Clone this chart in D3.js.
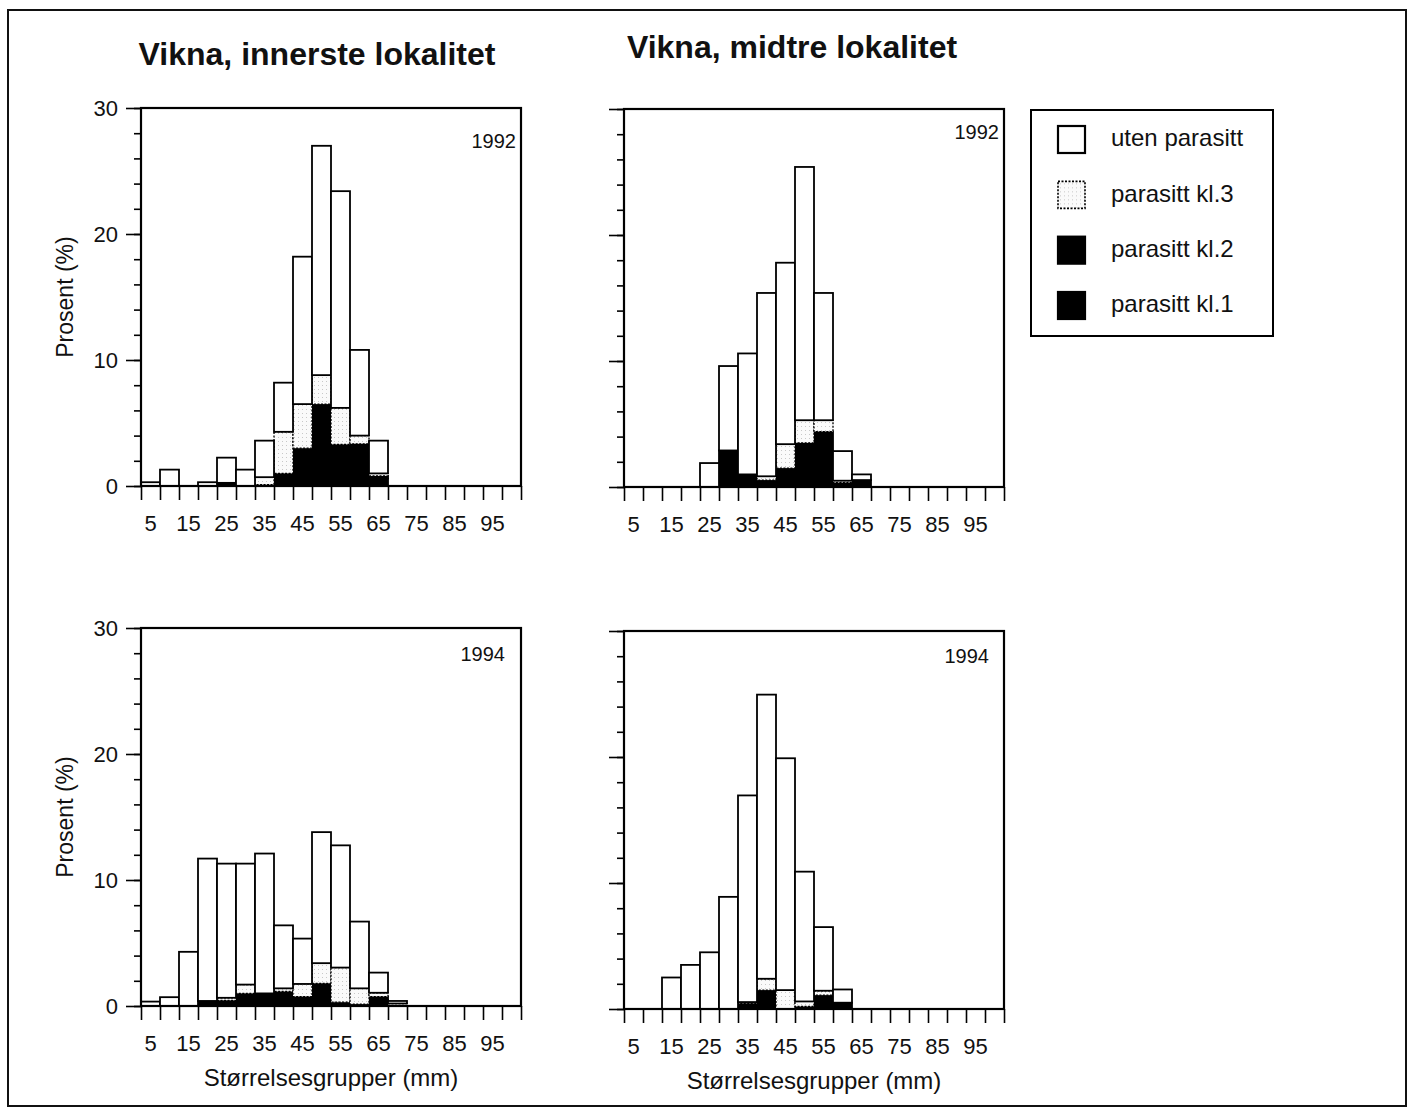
<!DOCTYPE html>
<html>
<head>
<meta charset="utf-8">
<script src="https://cdn.jsdelivr.net/npm/d3@7"></script>
<style>
  body { margin: 0; background: #fff; }
  text { font-family: "Liberation Sans", Arial, sans-serif; fill: #111; }
</style>
</head>
<body>
<div id="chart"></div>
<script>
// size groups (mm), every bin is 5 mm wide
const groups = [5, 10, 15, 20, 25, 30, 35, 40, 45, 50, 55, 60, 65, 70, 75, 80, 85, 90, 95, 100];
const groupLabels = [5, 15, 25, 35, 45, 55, 65, 75, 85, 95];
const yMajor = [0, 10, 20, 30];
const layerKeys = ["kl1", "kl2", "kl3", "uten"];
const legendLabels = ["uten parasitt", "parasitt kl.3", "parasitt kl.2", "parasitt kl.1"];
const legendKeys = ["uten", "kl3", "kl2", "kl1"];

// Vikna, innerste lokalitet 1992 (% per group, each layer's own height)
const inner92Uten = [0.3, 1.3, 0, 0.3, 2.0, 1.3, 2.9, 3.9, 11.7, 18.2, 17.2, 6.8, 2.6, 0, 0, 0, 0, 0, 0, 0];
const inner92Kl3  = [0, 0, 0, 0, 0, 0, 0.6, 3.3, 3.5, 2.3, 2.9, 0.65, 0.2, 0, 0, 0, 0, 0, 0, 0];
const inner92Kl2  = [0, 0, 0, 0, 0, 0, 0, 0.2, 1.0, 3.1, 0.8, 0.85, 0.2, 0, 0, 0, 0, 0, 0, 0];
const inner92Kl1  = [0, 0, 0, 0, 0.25, 0, 0.1, 0.8, 2.0, 3.4, 2.5, 2.5, 0.6, 0, 0, 0, 0, 0, 0, 0];

// Vikna, midtre lokalitet 1992
const mid92Uten = [0, 0, 0, 0, 1.9, 6.7, 9.6, 14.55, 14.4, 20.1, 10.1, 2.35, 0.45, 0, 0, 0, 0, 0, 0, 0];
const mid92Kl3  = [0, 0, 0, 0, 0, 0, 0, 0.3, 1.9, 1.8, 0.9, 0.15, 0, 0, 0, 0, 0, 0, 0, 0];
const mid92Kl2  = [0, 0, 0, 0, 0, 1.0, 0, 0, 0.4, 1.5, 1.9, 0, 0, 0, 0, 0, 0, 0, 0, 0];
const mid92Kl1  = [0, 0, 0, 0, 0, 1.9, 1.0, 0.55, 1.1, 2.0, 2.5, 0.35, 0.55, 0, 0, 0, 0, 0, 0, 0];

// Vikna, innerste lokalitet 1994
const inner94Uten = [0.35, 0.7, 4.3, 11.3, 10.65, 9.6, 11.1, 5.0, 3.6, 10.4, 9.7, 5.3, 1.6, 0.2, 0, 0, 0, 0, 0, 0];
const inner94Kl3  = [0, 0, 0, 0, 0.2, 0.7, 0, 0.25, 1.0, 1.6, 2.75, 1.25, 0.3, 0.2, 0, 0, 0, 0, 0, 0];
const inner94Kl2  = [0, 0, 0, 0, 0, 0.3, 0.3, 0.35, 0.2, 0.8, 0, 0, 0.25, 0, 0, 0, 0, 0, 0, 0];
const inner94Kl1  = [0, 0, 0, 0.4, 0.45, 0.7, 0.7, 0.8, 0.55, 1.0, 0.3, 0.15, 0.5, 0, 0, 0, 0, 0, 0, 0];

// Vikna, midtre lokalitet 1994
const mid94Uten = [0, 0, 2.5, 3.5, 4.5, 8.9, 16.4, 22.55, 18.4, 10.3, 5.05, 1.05, 0, 0, 0, 0, 0, 0, 0, 0];
const mid94Kl3  = [0, 0, 0, 0, 0, 0, 0.1, 0.9, 1.5, 0.4, 0.35, 0, 0, 0, 0, 0, 0, 0, 0, 0];
const mid94Kl2  = [0, 0, 0, 0, 0, 0, 0, 0.5, 0, 0, 0.4, 0, 0, 0, 0, 0, 0, 0, 0, 0];
const mid94Kl1  = [0, 0, 0, 0, 0, 0, 0.45, 1.0, 0, 0.2, 0.7, 0.5, 0, 0, 0, 0, 0, 0, 0, 0];

const W = 380, H = 378;
const FONT = "'Liberation Sans', Arial, sans-serif";

const panels = [
  { x: 141, y: 108, year: "1992", yearDx: 5, yearDy: 40, yLabels: true, xTitle: false,
    series: { uten: inner92Uten, kl3: inner92Kl3, kl2: inner92Kl2, kl1: inner92Kl1 } },
  { x: 624, y: 109, year: "1992", yearDx: 5, yearDy: 30, yLabels: false, xTitle: false,
    series: { uten: mid92Uten, kl3: mid92Kl3, kl2: mid92Kl2, kl1: mid92Kl1 } },
  { x: 141, y: 628, year: "1994", yearDx: 16, yearDy: 33, yLabels: true, xTitle: true,
    series: { uten: inner94Uten, kl3: inner94Kl3, kl2: inner94Kl2, kl1: inner94Kl1 } },
  { x: 624, y: 631, year: "1994", yearDx: 15, yearDy: 32, yLabels: false, xTitle: true,
    series: { uten: mid94Uten, kl3: mid94Kl3, kl2: mid94Kl2, kl1: mid94Kl1 } }
];

const svg = d3.select("#chart").append("svg")
  .attr("width", 1410)
  .attr("height", 1110);

// stipple used for parasitt kl.3
const defs = svg.append("defs");
const pat = defs.append("pattern")
  .attr("id", "stipple")
  .attr("width", 4).attr("height", 4)
  .attr("patternUnits", "userSpaceOnUse");
pat.append("rect").attr("width", 4).attr("height", 4).attr("fill", "#fafafa");
pat.append("rect").attr("x", 1).attr("y", 1).attr("width", 1).attr("height", 1).attr("fill", "#c8c8c8");

const fills = { uten: "#fff", kl3: "url(#stipple)", kl2: "#000", kl1: "#000" };
const dashes = { uten: null, kl3: "2,1.5", kl2: null, kl1: null };

// outer frame
svg.append("rect")
  .attr("x", 8).attr("y", 10)
  .attr("width", 1398).attr("height", 1096)
  .attr("fill", "none").attr("stroke", "#111").attr("stroke-width", 2);

// column titles
svg.append("text").attr("x", 317).attr("y", 65)
  .attr("text-anchor", "middle").attr("font-size", 32).attr("font-weight", "bold")
  .text("Vikna, innerste lokalitet");
svg.append("text").attr("x", 792).attr("y", 58)
  .attr("text-anchor", "middle").attr("font-size", 32).attr("font-weight", "bold")
  .text("Vikna, midtre lokalitet");

const x = d3.scaleBand().domain(groups).range([0, W]).paddingInner(0).paddingOuter(0);
const xEdge = d3.scaleLinear().domain([0, groups.length]).range([0, W]);
const y = d3.scaleLinear().domain([0, 30]).range([H, 0]);
const stack = d3.stack().keys(layerKeys);

panels.forEach(p => {
  const g = svg.append("g").attr("transform", `translate(${p.x},${p.y})`);

  const rows = groups.map((grp, i) => ({
    group: grp,
    kl1: p.series.kl1[i], kl2: p.series.kl2[i], kl3: p.series.kl3[i], uten: p.series.uten[i]
  }));
  const stacked = stack(rows);

  stacked.forEach(layer => {
    g.append("g")
      .selectAll("rect")
      .data(layer.filter(d => d[1] - d[0] > 0))
      .join("rect")
      .attr("x", d => x(d.data.group))
      .attr("y", d => y(d[1]))
      .attr("width", x.bandwidth())
      .attr("height", d => y(d[0]) - y(d[1]))
      .attr("fill", fills[layer.key])
      .attr("stroke", "#000")
      .attr("stroke-width", layer.key === "kl3" ? 1.3 : 1.8)
      .attr("stroke-dasharray", dashes[layer.key]);
  });

  // plot frame
  g.append("rect")
    .attr("width", W).attr("height", H)
    .attr("fill", "none").attr("stroke", "#000").attr("stroke-width", 2.2);

  // y axis: minor ticks every 2, major every 10
  const minor = g.append("g")
    .call(d3.axisLeft(y).tickValues(d3.range(0, 31, 2)).tickSize(7).tickFormat(""));
  const major = g.append("g")
    .call(d3.axisLeft(y).tickValues(yMajor).tickSize(15).tickPadding(8)
      .tickFormat(p.yLabels ? d3.format("d") : ""));
  [minor, major].forEach(a => {
    a.select(".domain").remove();
    a.selectAll("line").attr("stroke", "#000").attr("stroke-width", 1.6);
    a.selectAll("text").attr("font-size", 22).attr("fill", "#111").attr("font-family", FONT);
  });

  // x axis: ticks on bin edges, labels under every other group
  const xt = g.append("g").attr("transform", `translate(0,${H})`)
    .call(d3.axisBottom(xEdge).tickValues(d3.range(0, groups.length + 1)).tickSize(14).tickFormat(""));
  xt.select(".domain").remove();
  xt.selectAll("line").attr("stroke", "#000").attr("stroke-width", 1.6);

  const xl = g.append("g").attr("transform", `translate(0,${H})`)
    .call(d3.axisBottom(x).tickValues(groupLabels).tickSize(0).tickPadding(29));
  xl.select(".domain").remove();
  xl.selectAll("text").attr("font-size", 22).attr("fill", "#111").attr("font-family", FONT);

  // year
  g.append("text")
    .attr("x", W - p.yearDx).attr("y", p.yearDy)
    .attr("text-anchor", "end").attr("font-size", 20)
    .text(p.year);

  if (p.yLabels) {
    g.append("text")
      .attr("transform", `translate(${67 - p.x},${H / 2}) rotate(-90)`)
      .attr("text-anchor", "middle").attr("dominant-baseline", "middle")
      .attr("font-size", 23)
      .text("Prosent (%)");
  }
  if (p.xTitle) {
    g.append("text")
      .attr("x", W / 2).attr("y", H + 80)
      .attr("text-anchor", "middle").attr("font-size", 24)
      .text("Størrelsesgrupper (mm)");
  }
});

// legend
const leg = svg.append("g").attr("transform", "translate(1031,110)");
leg.append("rect")
  .attr("width", 242).attr("height", 226)
  .attr("fill", "#fff").attr("stroke", "#000").attr("stroke-width", 2);
const legRowY = d3.scalePoint().domain(legendKeys).range([29, 195]);
legendKeys.forEach((k, i) => {
  const row = leg.append("g").attr("transform", `translate(0,${legRowY(k)})`);
  row.append("rect")
    .attr("x", 27).attr("y", -13)
    .attr("width", 27).attr("height", 27)
    .attr("fill", fills[k])
    .attr("stroke", "#000")
    .attr("stroke-width", k === "kl3" ? 1.6 : 2.2)
    .attr("stroke-dasharray", dashes[k]);
  row.append("text")
    .attr("x", 80).attr("y", 1)
    .attr("dominant-baseline", "middle")
    .attr("font-size", 24)
    .text(legendLabels[i]);
});
</script>
</body>
</html>
